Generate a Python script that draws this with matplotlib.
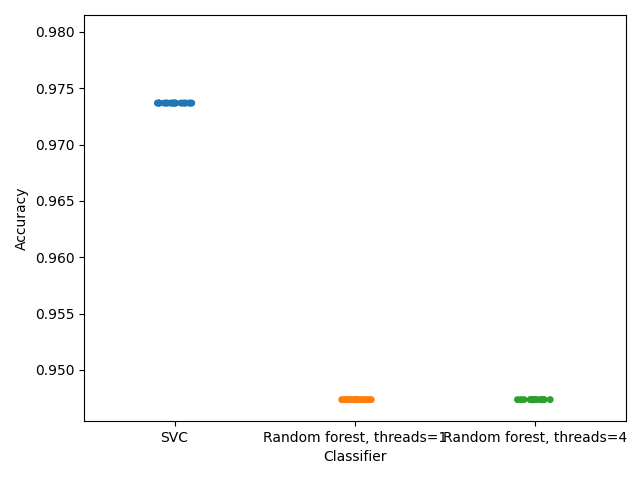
import matplotlib
matplotlib.use("Agg")
import matplotlib.pyplot as plt
import numpy as np
import pandas as pd
import seaborn as sns

# accuracy of each run, per classifier (38-sample test set)
svc_acc = [0.973684] * 20
rf1_acc = [0.947368] * 20
rf4_acc = [0.947368] * 20
classifiers = ["SVC", "Random forest, threads=1", "Random forest, threads=4"]

df = pd.DataFrame({
    "Classifier": [classifiers[0]] * len(svc_acc)
                  + [classifiers[1]] * len(rf1_acc)
                  + [classifiers[2]] * len(rf4_acc),
    "Accuracy": svc_acc + rf1_acc + rf4_acc,
})

np.random.seed(7)
fig, ax = plt.subplots(figsize=(6.4, 4.8), dpi=100)
sns.stripplot(data=df, x="Classifier", y="Accuracy", hue="Classifier",
              order=classifiers, hue_order=classifiers, legend=False, ax=ax)
ax.set_ylim(0.94547, 0.9815)
fig.subplots_adjust(left=0.1317, right=0.9777, top=0.96875, bottom=0.1229)
fig.savefig("out.png")
